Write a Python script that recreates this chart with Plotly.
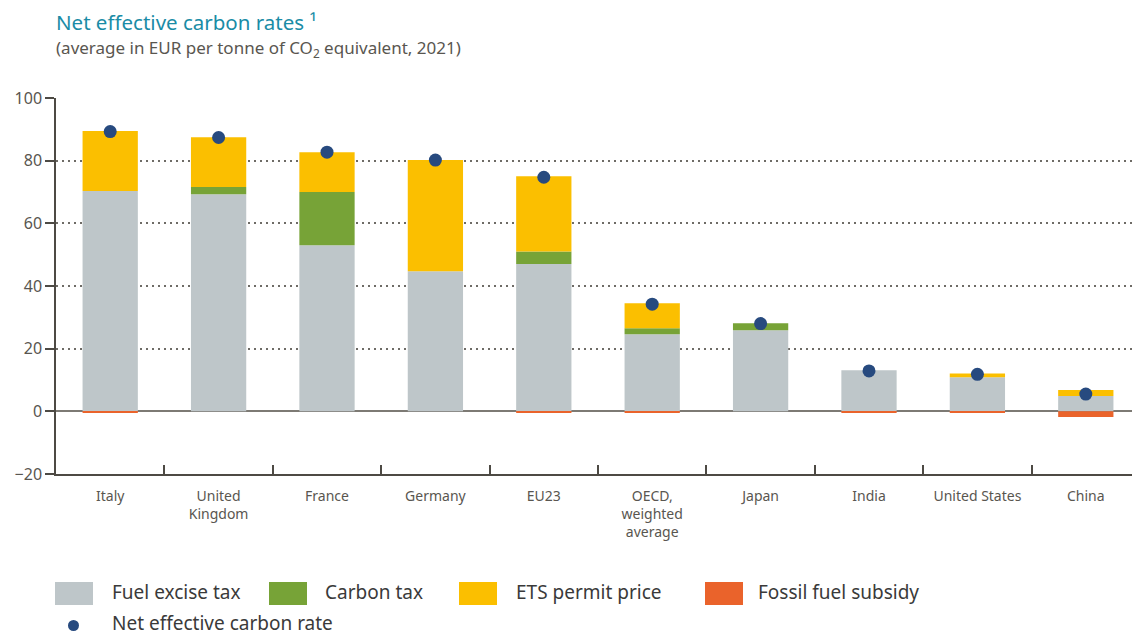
import plotly.graph_objects as go

countries = ["Italy", "United<br>Kingdom", "France", "Germany", "EU23",
             "OECD,<br>weighted<br>average", "Japan", "India", "United States", "China"]
fuel_excise = [70.3, 69.3, 53.0, 44.7, 47.0, 24.6, 25.9, 13.1, 10.9, 4.9]
carbon_tax = [0.0, 2.3, 17.0, 0.0, 4.0, 1.9, 2.2, 0.0, 0.0, 0.0]
ets_price = [19.2, 15.9, 12.7, 35.5, 24.0, 8.0, 0.0, 0.0, 1.2, 1.9]
fossil_subsidy = [-0.4, 0.0, 0.0, 0.0, -0.4, -0.4, 0.0, -0.5, -0.4, -1.8]
net_rate = [89.3, 87.4, 82.7, 80.2, 74.7, 34.2, 28.0, 12.9, 11.8, 5.5]

C_FUEL = "#bec6c9"
C_CARBON = "#77a337"
C_ETS = "#fbbf00"
C_SUB = "#ea632b"
C_DOT = "#274a7f"
GREY = "#595650"
FONT = "Noto Sans"

# the page body has an 8px margin, so the figure is laid out 8px up/left
OFF = 8
PL, PT, PB = 56 - OFF, 98 - OFF, 474 - OFF
PW = 1084
PH = PB - PT

fig = go.Figure()
fig.add_trace(go.Bar(x=countries, y=fuel_excise, name="Fuel excise tax", marker_color=C_FUEL, marker_line_width=0))
fig.add_trace(go.Bar(x=countries, y=carbon_tax, name="Carbon tax", marker_color=C_CARBON, marker_line_width=0))
fig.add_trace(go.Bar(x=countries, y=ets_price, name="ETS permit price", marker_color=C_ETS, marker_line_width=0))
fig.add_trace(go.Bar(x=countries, y=fossil_subsidy, name="Fossil fuel subsidy", marker_color=C_SUB, marker_line_width=0))
fig.add_trace(go.Scatter(x=countries, y=net_rate, name="Net effective carbon rate", mode="markers",
                         marker=dict(color=C_DOT, size=13)))

fig.update_layout(
    width=1140, height=634,
    barmode="relative", bargap=0.49,
    showlegend=False,
    plot_bgcolor="white", paper_bgcolor="white",
    margin=dict(l=PL, r=1140 - PL - PW, t=PT, b=634 - PB),
    font=dict(family=FONT, color=GREY, size=14),
)
fig.update_yaxes(range=[-20, 100], tickvals=[-20, 0, 20, 40, 60, 80, 100],
                 ticktext=["\u221220", "0", "20", "40", "60", "80", "100"],
                 showgrid=True, gridcolor="#6e6b66", griddash="1.5px,4.5px", gridwidth=1.5,
                 zeroline=True, zerolinecolor="#7d7a74", zerolinewidth=2,
                 showline=True, linecolor="#4d4a44", linewidth=1.5,
                 ticks="outside", ticklen=9, tickcolor="#4d4a44", tickwidth=1.5,
                 tickfont=dict(size=16, color=GREY))
fig.update_xaxes(range=[-0.5, len(countries) - 0.5],
                 showline=True, linecolor="#4d4a44", linewidth=1.5,
                 ticks="inside", tickson="boundaries", ticklen=9, tickcolor="#4d4a44", tickwidth=1.5,
                 tickfont=dict(size=14, color=GREY), ticklabelstandoff=8)


def px_x(p):
    return (p - OFF - PL) / PW


def px_y(p):
    return 1 - (p - OFF - PT) / PH


# titles
fig.add_annotation(text="Net effective carbon rates \u00b9", xref="paper", yref="paper",
                   x=px_x(54), y=px_y(22), xanchor="left", yanchor="middle", showarrow=False,
                   font=dict(size=20.5, color="#1a8ca6", family=FONT))
fig.add_annotation(text="(average in EUR per tonne of CO<sub>2</sub> equivalent, 2021)", xref="paper", yref="paper",
                   x=px_x(54), y=px_y(48), xanchor="left", yanchor="middle", showarrow=False,
                   font=dict(size=17, color=GREY, family=FONT))

# legend drawn by hand, with large swatches
legend_items = [("Fuel excise tax", C_FUEL, 55, 110), ("Carbon tax", C_CARBON, 269, 323),
                ("ETS permit price", C_ETS, 459, 514), ("Fossil fuel subsidy", C_SUB, 705, 756)]
for label, color, sx, tx in legend_items:
    fig.add_shape(type="rect", xref="paper", yref="paper", x0=px_x(sx), x1=px_x(sx + 38),
                  y0=px_y(605), y1=px_y(582), fillcolor=color, line_width=0)
    fig.add_annotation(text=label, xref="paper", yref="paper", x=px_x(tx), y=px_y(592),
                       xanchor="left", yanchor="middle", showarrow=False,
                       font=dict(size=19, color="#3a3a3a", family=FONT))
fig.add_shape(type="circle", xref="paper", yref="paper", x0=px_x(68), x1=px_x(79),
              y0=px_y(631), y1=px_y(620), fillcolor=C_DOT, line_width=0)
fig.add_annotation(text="Net effective carbon rate", xref="paper", yref="paper", x=px_x(110), y=px_y(623),
                   xanchor="left", yanchor="middle", showarrow=False,
                   font=dict(size=19, color="#3a3a3a", family=FONT))

fig.write_html("out.html")
